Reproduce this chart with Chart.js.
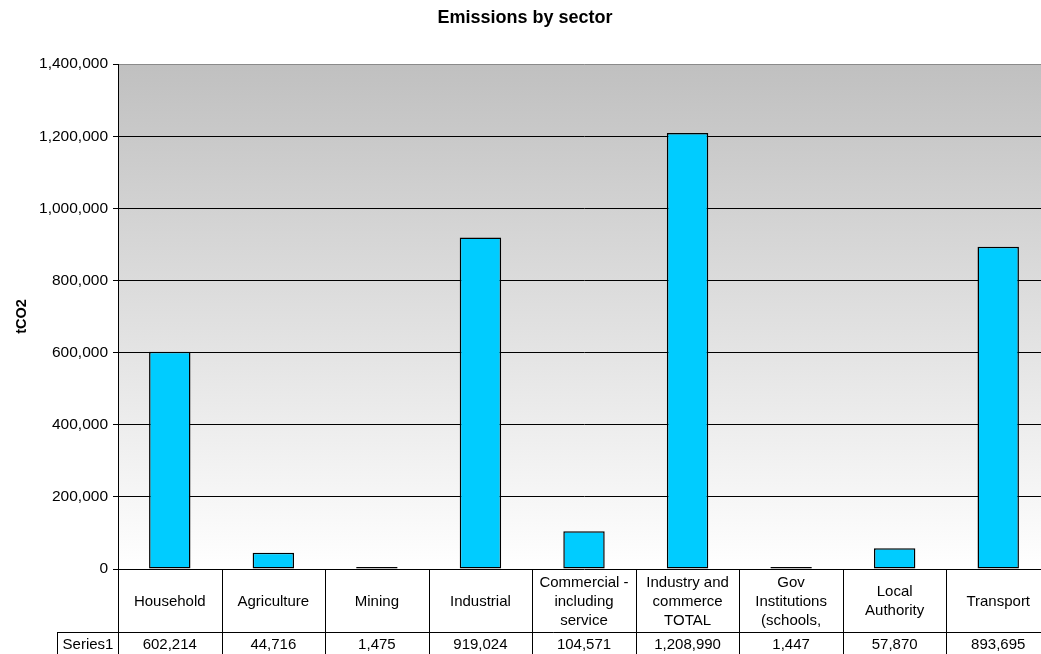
<!DOCTYPE html>
<html>
<head>
<meta charset="utf-8">
<script src="https://cdn.jsdelivr.net/npm/chart.js@4"></script>
<style>
  html, body { margin: 0; padding: 0; background: #fff; overflow: hidden; }
  #wrap { width: 1060px; height: 654px; }
</style>
</head>
<body>
<div id="wrap"><canvas id="chart" width="1060" height="654"></canvas></div>
<script>
// data
const sectors = [
  ['Household'],
  ['Agriculture'],
  ['Mining'],
  ['Industrial'],
  ['Commercial -', 'including', 'service'],
  ['Industry and', 'commerce', 'TOTAL'],
  ['Gov', 'Institutions', '(schools,'],
  ['Local', 'Authority'],
  ['Transport']
];
const series1 = [602214, 44716, 1475, 919024, 104571, 1208990, 1447, 57870, 893695];
const seriesName = 'Series1';
const yMax = 1400000;
const yStep = 200000;

const FONT = '"Liberation Sans", Arial, sans-serif';
const fmt = v => v.toLocaleString('en-US');

// grey-to-white plot background
const plotBackground = {
  id: 'plotBackground',
  beforeDraw(chart) {
    const { ctx, chartArea: a } = chart;
    const g = ctx.createLinearGradient(0, a.top, 0, a.bottom);
    g.addColorStop(0, '#c0c0c0');
    g.addColorStop(1, '#ffffff');
    ctx.save();
    ctx.fillStyle = g;
    ctx.fillRect(a.left, a.top, a.right - a.left, a.bottom - a.top);
    ctx.restore();
  }
};

// data table under the plot
const dataTable = {
  id: 'dataTable',
  afterDraw(chart) {
    const { ctx, chartArea: a } = chart;
    const x = chart.scales.x;
    const n = sectors.length;
    const w = (a.right - a.left) / n;
    const top = a.bottom;
    const mid = top + 63;
    const bottom = chart.height;
    ctx.save();
    ctx.strokeStyle = '#000';
    ctx.lineWidth = 1;
    ctx.beginPath();
    for (let i = 0; i <= n; i++) {
      const px = Math.round(a.left + i * w) + 0.5;
      ctx.moveTo(px, top);
      ctx.lineTo(px, bottom);
    }
    ctx.moveTo(57.5, mid + 0.5);
    ctx.lineTo(a.right, mid + 0.5);
    ctx.moveTo(57.5, mid);
    ctx.lineTo(57.5, bottom);
    ctx.stroke();

    ctx.fillStyle = '#000';
    ctx.font = '15px ' + FONT;
    ctx.textAlign = 'center';
    ctx.textBaseline = 'middle';
    const lh = 19;
    sectors.forEach((lines, i) => {
      const cx = x.getPixelForValue(i);
      const cy = (top + mid) / 2 + 1;
      lines.forEach((t, j) => {
        ctx.fillText(t, cx, cy + (j - (lines.length - 1) / 2) * lh);
      });
      ctx.fillText(fmt(series1[i]), cx, mid + 13);
    });
    ctx.fillText(seriesName, 88, mid + 13);
    ctx.restore();
  }
};

new Chart(document.getElementById('chart'), {
  type: 'bar',
  data: {
    labels: sectors,
    datasets: [{
      label: seriesName,
      data: series1,
      backgroundColor: '#00ccff',
      borderColor: '#000',
      borderWidth: 1.5,
      borderSkipped: false,
      minBarLength: 2,
      categoryPercentage: 1,
      barPercentage: 0.4
    }]
  },
  options: {
    responsive: false,
    animation: false,
    devicePixelRatio: 1,
    layout: { padding: { left: 0, right: 10, top: 0, bottom: 85 } },
    plugins: {
      legend: { display: false },
      tooltip: { enabled: false },
      title: {
        display: true,
        text: 'Emissions by sector',
        color: '#000',
        font: { family: FONT, size: 18, weight: 'bold' },
        padding: { top: 7, bottom: 35.5 }
      }
    },
    scales: {
      x: { display: false },
      y: {
        min: 0,
        max: yMax,
        afterFit(scale) { scale.width = 118; },
        ticks: {
          stepSize: yStep,
          color: '#000',
          padding: 5,
          font: { family: FONT, size: 15.5 },
          callback: v => fmt(v)
        },
        grid: {
          color: c => c.index === c.chart.scales.y.ticks.length - 1 ? '#8a8a8a' : '#000',
          tickColor: '#000',
          tickLength: 5,
          lineWidth: 1
        },
        border: { display: true, color: '#000' },
        title: {
          display: true,
          text: 'tCO2',
          color: '#000',
          font: { family: FONT, size: 14.5, weight: 'bold' },
          padding: { top: 13, bottom: 0 }
        }
      }
    }
  },
  plugins: [plotBackground, dataTable]
});
</script>
</body>
</html>
